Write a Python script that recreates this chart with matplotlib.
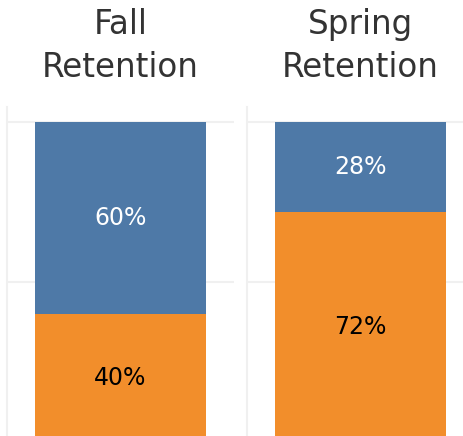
import matplotlib.pyplot as plt

panels = ["Fall\nRetention", "Spring\nRetention"]
not_retained = [0.40, 0.72]   # orange, bottom
retained = [0.60, 0.28]       # blue, top
label_bottom = ["40%", "72%"]
label_top = ["60%", "28%"]

BLUE = "#4e79a7"
ORANGE = "#f28e2b"
GRID = "#f0f0f0"

W, H = 464, 436
fig = plt.figure(figsize=(W / 100, H / 100), dpi=100)

axes_px = [(7, 234), (247, 474)]
top_px, bot_px = 107, 442
unit = 320.0
for i, (x0, x1) in enumerate(axes_px):
    ax = fig.add_axes([x0 / W, (H - bot_px) / H, (x1 - x0) / W, (bot_px - top_px) / H])
    ax.set_xlim(-0.5, 0.5)
    ax.set_ylim(0, 1 + 15 / unit)
    bw = 171 / 227
    ax.bar(0, not_retained[i], width=bw, color=ORANGE, zorder=2)
    ax.bar(0, retained[i], bottom=not_retained[i], width=bw, color=BLUE, zorder=2)
    for yv in (0.5, 1.0):
        ax.axhline(yv, color=GRID, lw=1.5, zorder=1)
    for s in ["top", "right", "bottom"]:
        ax.spines[s].set_visible(False)
    ax.spines["left"].set_color(GRID)
    ax.spines["left"].set_linewidth(1.5)
    ax.set_xticks([])
    ax.set_yticks([])
    ax.text(0, not_retained[i] / 2, label_bottom[i], ha="center", va="center",
            fontsize=17, color="black", zorder=3)
    ax.text(0, not_retained[i] + retained[i] / 2, label_top[i], ha="center", va="center",
            fontsize=17, color="white", zorder=3)
    cx = (x0 + 113.5) / W
    fig.text(cx, 1 - 46 / H, panels[i], ha="center", va="center", fontsize=23.5,
             color="#333333", linespacing=1.4)

fig.savefig("out.png", dpi=100)
